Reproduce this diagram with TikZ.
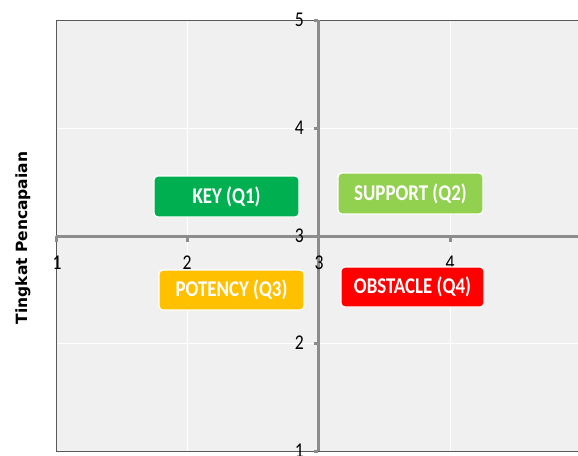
\documentclass[tikz,border=0pt]{standalone}
\usepackage{fontspec}
\setmainfont{Carlito}
\newfontfamily\chartfont[FakeStretch=0.84]{Carlito}
\newfontfamily\titlefont{DejaVu Sans}
\usetikzlibrary{positioning}
\definecolor{plotbg}{HTML}{F0F0F0}
\definecolor{axisgray}{HTML}{8C8C8C}
\definecolor{framegray}{HTML}{595959}
\definecolor{keygreen}{HTML}{00B050}
\definecolor{supportgreen}{HTML}{92D050}
\definecolor{potencyorange}{HTML}{FFC000}
\definecolor{obstaclered}{HTML}{FF0000}

\begin{document}
\begin{tikzpicture}[x=1pt, y=-1pt,
    quad/.style={draw=white, line width=1.2pt, rounded corners=4pt, text=white,
        minimum width=145pt, minimum height=41pt,
        font=\chartfont\bfseries\fontsize{22.5}{24}\selectfont},
    numlabel/.style={inner sep=0pt, font=\chartfont\fontsize{21}{23}\selectfont},
    axisline/.style={axisgray, line width=3pt}]
    \useasboundingbox (0,0) rectangle (578,455);
    % plot area
    \fill[plotbg] (56,20) rectangle (578,451);
    \draw[white, line width=0.8pt] (187,20) -- (187,451) (450,20) -- (450,451)
        (56,128) -- (578,128) (56,343) -- (578,343);
    \draw[framegray, line width=1pt] (578,20) -- (56,20) -- (56,451) -- (578,451);
    % axes
    \draw[axisline] (318,20) -- (318,451);
    \draw[axisline] (56,236) -- (578,236);
    \foreach \y in {20,128,236,343,451}
        \draw[axisline] (314,\y) -- (318,\y);
    \foreach \x in {56,187,450}
        \draw[axisline] (\x,236) -- (\x,242);
    \foreach \y/\v in {20/5,128/4,236/3,343/2,451/1}
        \node[numlabel, anchor=east] (ylab\v) at (304,\y) {\v};
    \foreach \x/\v in {57/1,187/2,319/3,450/4}
        \node[numlabel] (xlab\v) at (\x,263) {\v};
    \node[rotate=90, font=\titlefont\bfseries\fontsize{15.5}{17}\selectfont] (ytitle) at (23,238) {Tingkat Pencapaian};
    % quadrants
    \node[quad, fill=keygreen] (key) at (226.5,196.5) {KEY (Q1)};
    \node[quad, fill=supportgreen] (support) at (410.5,193.5) {SUPPORT (Q2)};
    \node[quad, fill=potencyorange, minimum height=40pt] (potency) at (231.5,290) {POTENCY (Q3)};
    \node[quad, fill=obstaclered, minimum width=143pt, minimum height=40pt] (obstacle) at (412.5,287) {OBSTACLE (Q4)};
\end{tikzpicture}
\end{document}
